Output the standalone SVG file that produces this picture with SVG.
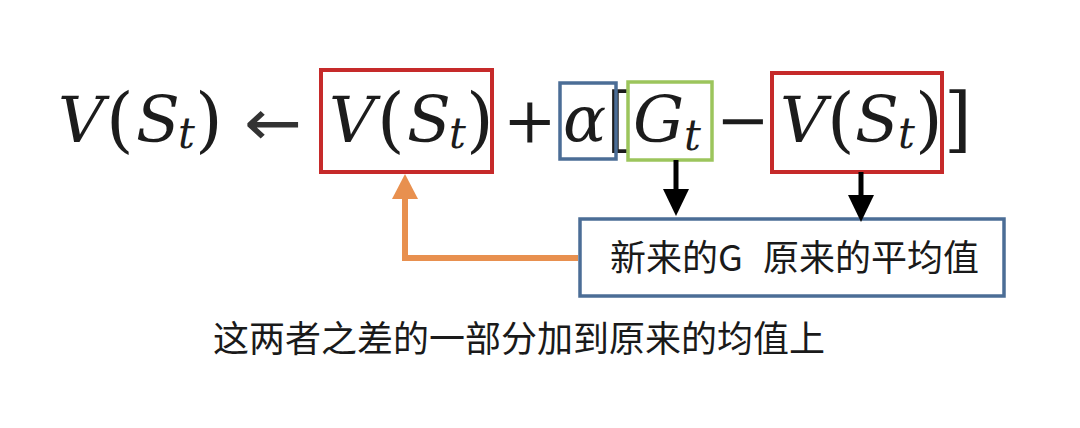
<svg xmlns="http://www.w3.org/2000/svg" width="1080" height="428" viewBox="0 0 1080 428">
<style>
.m{font-family:"DejaVu Serif",serif;font-size:64px;fill:#1c1c1c}
.p{font-family:"DejaVu Serif",serif;font-size:71px;fill:#1c1c1c}
.i{font-style:italic}
.ar{font-family:"DejaVu Sans",sans-serif;font-size:64px;fill:#333}
.sub{font-family:"DejaVu Serif",serif;font-style:italic;font-size:42px;fill:#1c1c1c}
.cjk{font-family:"Noto Sans CJK SC","Noto Sans",sans-serif;font-size:36px;fill:#1a1a1a}
.red{fill:none;stroke:#c62a2a;stroke-width:4}
.blue{fill:none;stroke:#4b6d96;stroke-width:3.5}
.green{fill:none;stroke:#9cc55c;stroke-width:3.5}
</style>
<defs>
<marker id="hb" viewBox="0 0 27 26" refX="0" refY="13" markerWidth="27" markerHeight="26" markerUnits="userSpaceOnUse" orient="auto">
<path d="M0,0 L27,13 L0,26 z" fill="#000"/>
</marker>
<marker id="ho" viewBox="0 0 25 26" refX="0" refY="13" markerWidth="25" markerHeight="26" markerUnits="userSpaceOnUse" orient="auto">
<path d="M0,0 L25,13 L0,26 z" fill="#e8904f"/>
</marker>
</defs>
<rect width="1080" height="428" fill="#fff"/>

<g id="formula">
<text class="m i" x="58" y="142">V</text>
<text class="p" x="106" y="144">(</text>
<text class="m i" x="136" y="142">S</text>
<text class="sub" x="178" y="148">t</text>
<text class="p" x="195" y="144">)</text>
<text class="ar" x="244" y="145" textLength="58" lengthAdjust="spacingAndGlyphs">←</text>
<text class="m i" x="329" y="142">V</text>
<text class="p" x="377" y="144">(</text>
<text class="m i" x="407" y="142">S</text>
<text class="sub" x="449" y="148">t</text>
<text class="p" x="466" y="144">)</text>
<text class="m" x="503" y="142">+</text>
<text class="m i" x="563" y="141">α</text>
<text class="p" x="606" y="144" font-size="66">[</text>
<text class="m i" x="633" y="142">G</text>
<text class="sub" x="684" y="150">t</text>
<text class="m" x="716" y="142">−</text>
<text class="m i" x="780" y="142">V</text>
<text class="p" x="827" y="144">(</text>
<text class="m i" x="855" y="142">S</text>
<text class="sub" x="898" y="148">t</text>
<text class="p" x="915" y="144">)</text>
<text class="p" x="944" y="144">]</text>
</g>

<g id="box-v-old"><rect class="red" x="321" y="70" width="171" height="102"/></g>
<g id="box-alpha"><rect class="blue" x="560" y="83" width="56" height="76"/></g>
<g id="box-gt"><rect class="green" x="628" y="82" width="84" height="78"/></g>
<g id="box-v-sub"><rect class="red" x="772" y="73" width="170" height="99"/></g>

<g id="box-explain">
<rect class="blue" x="580" y="219" width="424" height="77"/>
<text class="cjk" y="271"><tspan x="610">新来的G</tspan><tspan x="763">原来的平均值</tspan></text>
</g>

<g id="caption">
<text class="cjk" x="213" y="352">这两者之差的一部分加到原来的均值上</text>
</g>

<g id="connectors">
<line x1="676" y1="160" x2="676" y2="189" stroke="#000" stroke-width="5" marker-end="url(#hb)"/>
<line x1="861" y1="172" x2="861" y2="195" stroke="#000" stroke-width="5" marker-end="url(#hb)"/>
<polyline points="578,258 405,258 405,199" fill="none" stroke="#e8904f" stroke-width="6" marker-end="url(#ho)"/>
</g>
</svg>
